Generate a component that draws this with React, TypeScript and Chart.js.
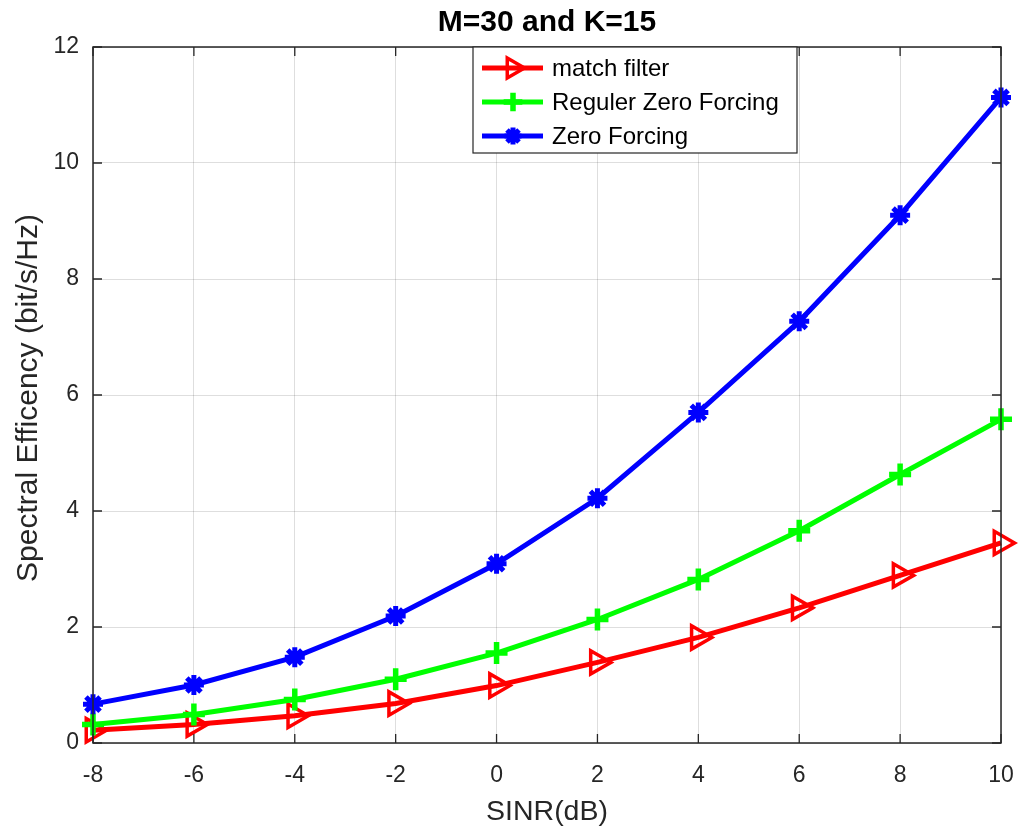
import React, { useEffect, useRef } from "react";
import { Chart, registerables } from "chart.js";
import { drawPoint } from "chart.js/helpers";

Chart.register(...registerables);

const sinrDb = [-8, -6, -4, -2, 0, 2, 4, 6, 8, 10];
const matchFilter = [0.22, 0.32, 0.47, 0.68, 0.99, 1.39, 1.82, 2.33, 2.89, 3.45];
const regZeroForcing = [0.32, 0.49, 0.75, 1.1, 1.55, 2.13, 2.82, 3.66, 4.63, 5.58];
const zeroForcing = [0.67, 1.0, 1.48, 2.19, 3.09, 4.22, 5.7, 7.27, 9.1, 11.13];

const seriesNames = ["match filter", "Reguler Zero Forcing", "Zero Forcing"];
const seriesColors = ["#ff0000", "#00ff00", "#0000ff"];
const xTicks = [-8, -6, -4, -2, 0, 2, 4, 6, 8, 10];
const yTicks = [0, 2, 4, 6, 8, 10, 12];
const chartTitle = "M=30 and K=15";
const xTitle = "SINR(dB)";
const yTitle = "Spectral Efficency (bit/s/Hz)";

const FONT = "'Liberation Sans', Arial, sans-serif";
const AXIS = "#262626";

const pointCfg = [
  { pointStyle: "triangle", rotation: 90, radius: 13.5, bw: 3.5, fill: "rgba(0,0,0,0)" },
  { pointStyle: "cross", rotation: 0, radius: 11, bw: 5.5, fill: "#00ff00" },
  { pointStyle: "star", rotation: 0, radius: 10, bw: 5, fill: "#0000ff" },
];

const framePlugin = {
  id: "frame",
  afterDatasetsDraw(chart: any) {
    const { ctx, chartArea: a, scales } = chart;
    ctx.save();
    ctx.strokeStyle = AXIS;
    ctx.lineWidth = 1.5;
    ctx.strokeRect(a.left, a.top, a.right - a.left, a.bottom - a.top);
    const tl = 9;
    ctx.lineWidth = 1.3;
    ctx.beginPath();
    for (const v of xTicks) {
      const x = scales.x.getPixelForValue(v);
      ctx.moveTo(x, a.bottom);
      ctx.lineTo(x, a.bottom - tl);
      ctx.moveTo(x, a.top);
      ctx.lineTo(x, a.top + tl);
    }
    for (const v of yTicks) {
      const y = scales.y.getPixelForValue(v);
      ctx.moveTo(a.left, y);
      ctx.lineTo(a.left + tl, y);
      ctx.moveTo(a.right, y);
      ctx.lineTo(a.right - tl, y);
    }
    ctx.stroke();
    ctx.fillStyle = AXIS;
    ctx.font = `23px ${FONT}`;
    ctx.textAlign = "center";
    ctx.textBaseline = "middle";
    for (const v of xTicks) {
      ctx.fillText(String(v), scales.x.getPixelForValue(v), a.bottom + 33);
    }
    ctx.restore();
  },
  afterDraw(chart: any) {
    const { ctx, chartArea: a } = chart;
    const cx = (a.left + a.right) / 2;
    const cy = (a.top + a.bottom) / 2;
    ctx.save();
    ctx.textAlign = "center";
    ctx.textBaseline = "middle";
    ctx.fillStyle = "#000000";
    ctx.font = `bold 30px ${FONT}`;
    ctx.fillText(chartTitle, cx, 23);
    ctx.fillStyle = AXIS;
    ctx.font = `28.5px ${FONT}`;
    ctx.fillText(xTitle, cx, 812);
    ctx.save();
    ctx.translate(29, cy + 3);
    ctx.rotate(-Math.PI / 2);
    ctx.font = `30px ${FONT}`;
    ctx.fillText(yTitle, 0, 0);
    ctx.restore();

    const bx = 473, by = 47, bw = 324, bh = 106;
    ctx.fillStyle = "#ffffff";
    ctx.fillRect(bx, by, bw, bh);
    ctx.strokeStyle = AXIS;
    ctx.lineWidth = 1.2;
    ctx.strokeRect(bx, by, bw, bh);
    const rows = [68, 102, 136];
    seriesNames.forEach((name, i) => {
      const y = rows[i];
      ctx.strokeStyle = seriesColors[i];
      ctx.lineWidth = 5;
      ctx.beginPath();
      ctx.moveTo(482, y);
      ctx.lineTo(543, y);
      ctx.stroke();
      const p = pointCfg[i];
      ctx.fillStyle = p.fill;
      ctx.strokeStyle = seriesColors[i];
      ctx.lineWidth = p.bw;
      drawPoint(ctx, { pointStyle: p.pointStyle as any, rotation: p.rotation, radius: p.radius * 0.85, borderWidth: p.bw }, 513, y);
      ctx.fillStyle = "#000000";
      ctx.font = `24px ${FONT}`;
      ctx.textBaseline = "middle";
      ctx.textAlign = "left";
      ctx.fillText(name, 552, y + 1);
    });
    ctx.restore();
  },
};

export default function App() {
  const ref = useRef<HTMLCanvasElement>(null);
  useEffect(() => {
    if (!ref.current) return;
    const datasets = [matchFilter, regZeroForcing, zeroForcing].map((vals, i) => ({
      label: seriesNames[i],
      data: vals.map((v, j) => ({ x: sinrDb[j], y: v })),
      borderColor: seriesColors[i],
      backgroundColor: pointCfg[i].fill,
      borderWidth: 5,
      pointStyle: pointCfg[i].pointStyle,
      pointRotation: pointCfg[i].rotation,
      pointRadius: pointCfg[i].radius,
      pointBorderWidth: pointCfg[i].bw,
      pointBackgroundColor: pointCfg[i].fill,
      pointBorderColor: seriesColors[i],
      tension: 0,
      clip: false as any,
      order: 3 - i,
    }));
    const chart = new Chart(ref.current, {
      type: "line",
      data: { datasets },
      plugins: [framePlugin],
      options: {
        animation: false,
        responsive: false,
        layout: { autoPadding: false, padding: { left: 8, right: 18, top: 47, bottom: 0 } },
        plugins: {
          legend: { display: false },
          tooltip: { enabled: false },
          title: { display: false },
        },
        scales: {
          x: {
            type: "linear",
            min: -8,
            max: 10,
            afterFit: (s: any) => {
              s.height = 88;
              s.paddingLeft = 0;
              s.paddingRight = 0;
            },
            afterBuildTicks: (s: any) => { s.ticks = xTicks.map((v) => ({ value: v })); },
            ticks: { display: false },
            grid: { color: "rgba(0,0,0,0.13)", lineWidth: 1, drawTicks: false },
            border: { display: false },
          },
          y: {
            type: "linear",
            min: 0,
            max: 12,
            afterFit: (s: any) => {
              s.width = 85;
              s.paddingTop = 0;
              s.paddingBottom = 0;
            },
            afterBuildTicks: (s: any) => { s.ticks = yTicks.map((v) => ({ value: v })); },
            ticks: { color: AXIS, font: { family: FONT, size: 23 }, padding: 14 },
            grid: { color: "rgba(0,0,0,0.13)", lineWidth: 1, drawTicks: false },
            border: { display: false },
          },
        },
      } as any,
    });
    return () => chart.destroy();
  }, []);
  return (
    <canvas
      ref={ref}
      width={1019}
      height={831}
      style={{ display: "block", position: "absolute", left: 0, top: 0, width: 1019, height: 831 }}
    />
  );
}
